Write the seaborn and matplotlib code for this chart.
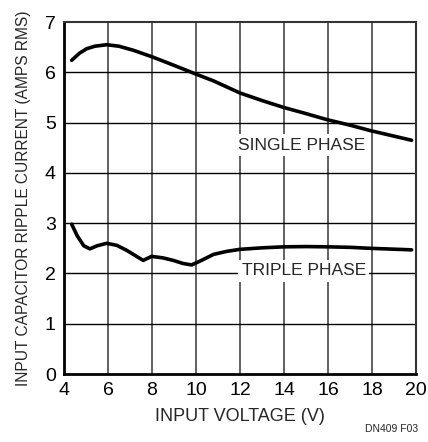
import matplotlib
matplotlib.use("Agg")
import matplotlib.pyplot as plt
import seaborn as sns
import pandas as pd

# Values
single_v = [4.35, 4.7, 5.03, 5.4, 5.94, 6.5, 7.15, 8.0, 9.0, 10.03, 10.8, 12.0, 13.0, 14.0, 15.0, 15.95, 17.0, 17.94, 19.8]
single_i = [6.24, 6.38, 6.47, 6.52, 6.55, 6.52, 6.44, 6.31, 6.14, 5.96, 5.83, 5.59, 5.44, 5.30, 5.18, 5.06, 4.95, 4.84, 4.65]

triple_v = [4.35, 4.6, 4.9, 5.18, 5.5, 5.94, 6.4, 6.85, 7.3, 7.6, 7.98, 8.5, 8.97, 9.4, 9.8, 10.2, 10.8, 11.4, 12.0, 13.0, 14.0, 15.0, 15.95, 17.0, 17.94, 19.8]
triple_i = [2.98, 2.75, 2.55, 2.49, 2.55, 2.60, 2.56, 2.46, 2.34, 2.26, 2.34, 2.31, 2.26, 2.20, 2.17, 2.25, 2.38, 2.44, 2.48, 2.51, 2.53, 2.535, 2.53, 2.52, 2.50, 2.47]

x_ticks = [4, 6, 8, 10, 12, 14, 16, 18, 20]
y_ticks = [0, 1, 2, 3, 4, 5, 6, 7]

df = pd.concat([
    pd.DataFrame({"V": single_v, "I": single_i, "Phase": "SINGLE PHASE"}),
    pd.DataFrame({"V": triple_v, "I": triple_i, "Phase": "TRIPLE PHASE"}),
])

sns.set_style("white")
plt.rcParams["font.family"] = ["Liberation Sans", "DejaVu Sans"]

fig = plt.figure(figsize=(4.28, 4.42), dpi=100)
ax = fig.add_axes([0.1495, 0.1538, 0.8225, 0.7962])

sns.lineplot(data=df, x="V", y="I", units="Phase", estimator=None, sort=False,
             color="black", linewidth=2.6, ax=ax, zorder=3)

ax.set_xlim(4, 20)
ax.set_ylim(0, 7)
ax.set_xticks(x_ticks)
ax.set_yticks(y_ticks)
ax.tick_params(axis="both", length=0, labelsize=14, pad=6, colors="black")

# grid: vertical lines grey, horizontal lines black
for xv in x_ticks[1:-1]:
    ax.axvline(xv, color="#555555", linewidth=1.3, zorder=1)
for yv in y_ticks[1:-1]:
    ax.axhline(yv, color="black", linewidth=1.0, zorder=1)

for side in ["left", "bottom"]:
    ax.spines[side].set_linewidth(2.0)
    ax.spines[side].set_color("black")
for side in ["top", "right"]:
    ax.spines[side].set_linewidth(1.5)
    ax.spines[side].set_color("#333333")

ax.set_xlabel("INPUT VOLTAGE (V)", fontsize=13, labelpad=6)
ax.set_ylabel("INPUT CAPACITOR RIPPLE CURRENT (AMPS RMS)", fontsize=11.2, labelpad=10)

ax.text(14.8, 4.55, "SINGLE PHASE", fontsize=12.5, ha="center", va="center", zorder=2,
        bbox=dict(facecolor="white", edgecolor="none", pad=2.5))
ax.text(14.9, 2.05, "TRIPLE PHASE", fontsize=12.5, ha="center", va="center", zorder=2,
        bbox=dict(facecolor="white", edgecolor="none", pad=2.5))

fig.text(0.915, 0.018, "DN409 F03", fontsize=7.5, ha="center", va="bottom")

fig.savefig("out.png", dpi=100)
